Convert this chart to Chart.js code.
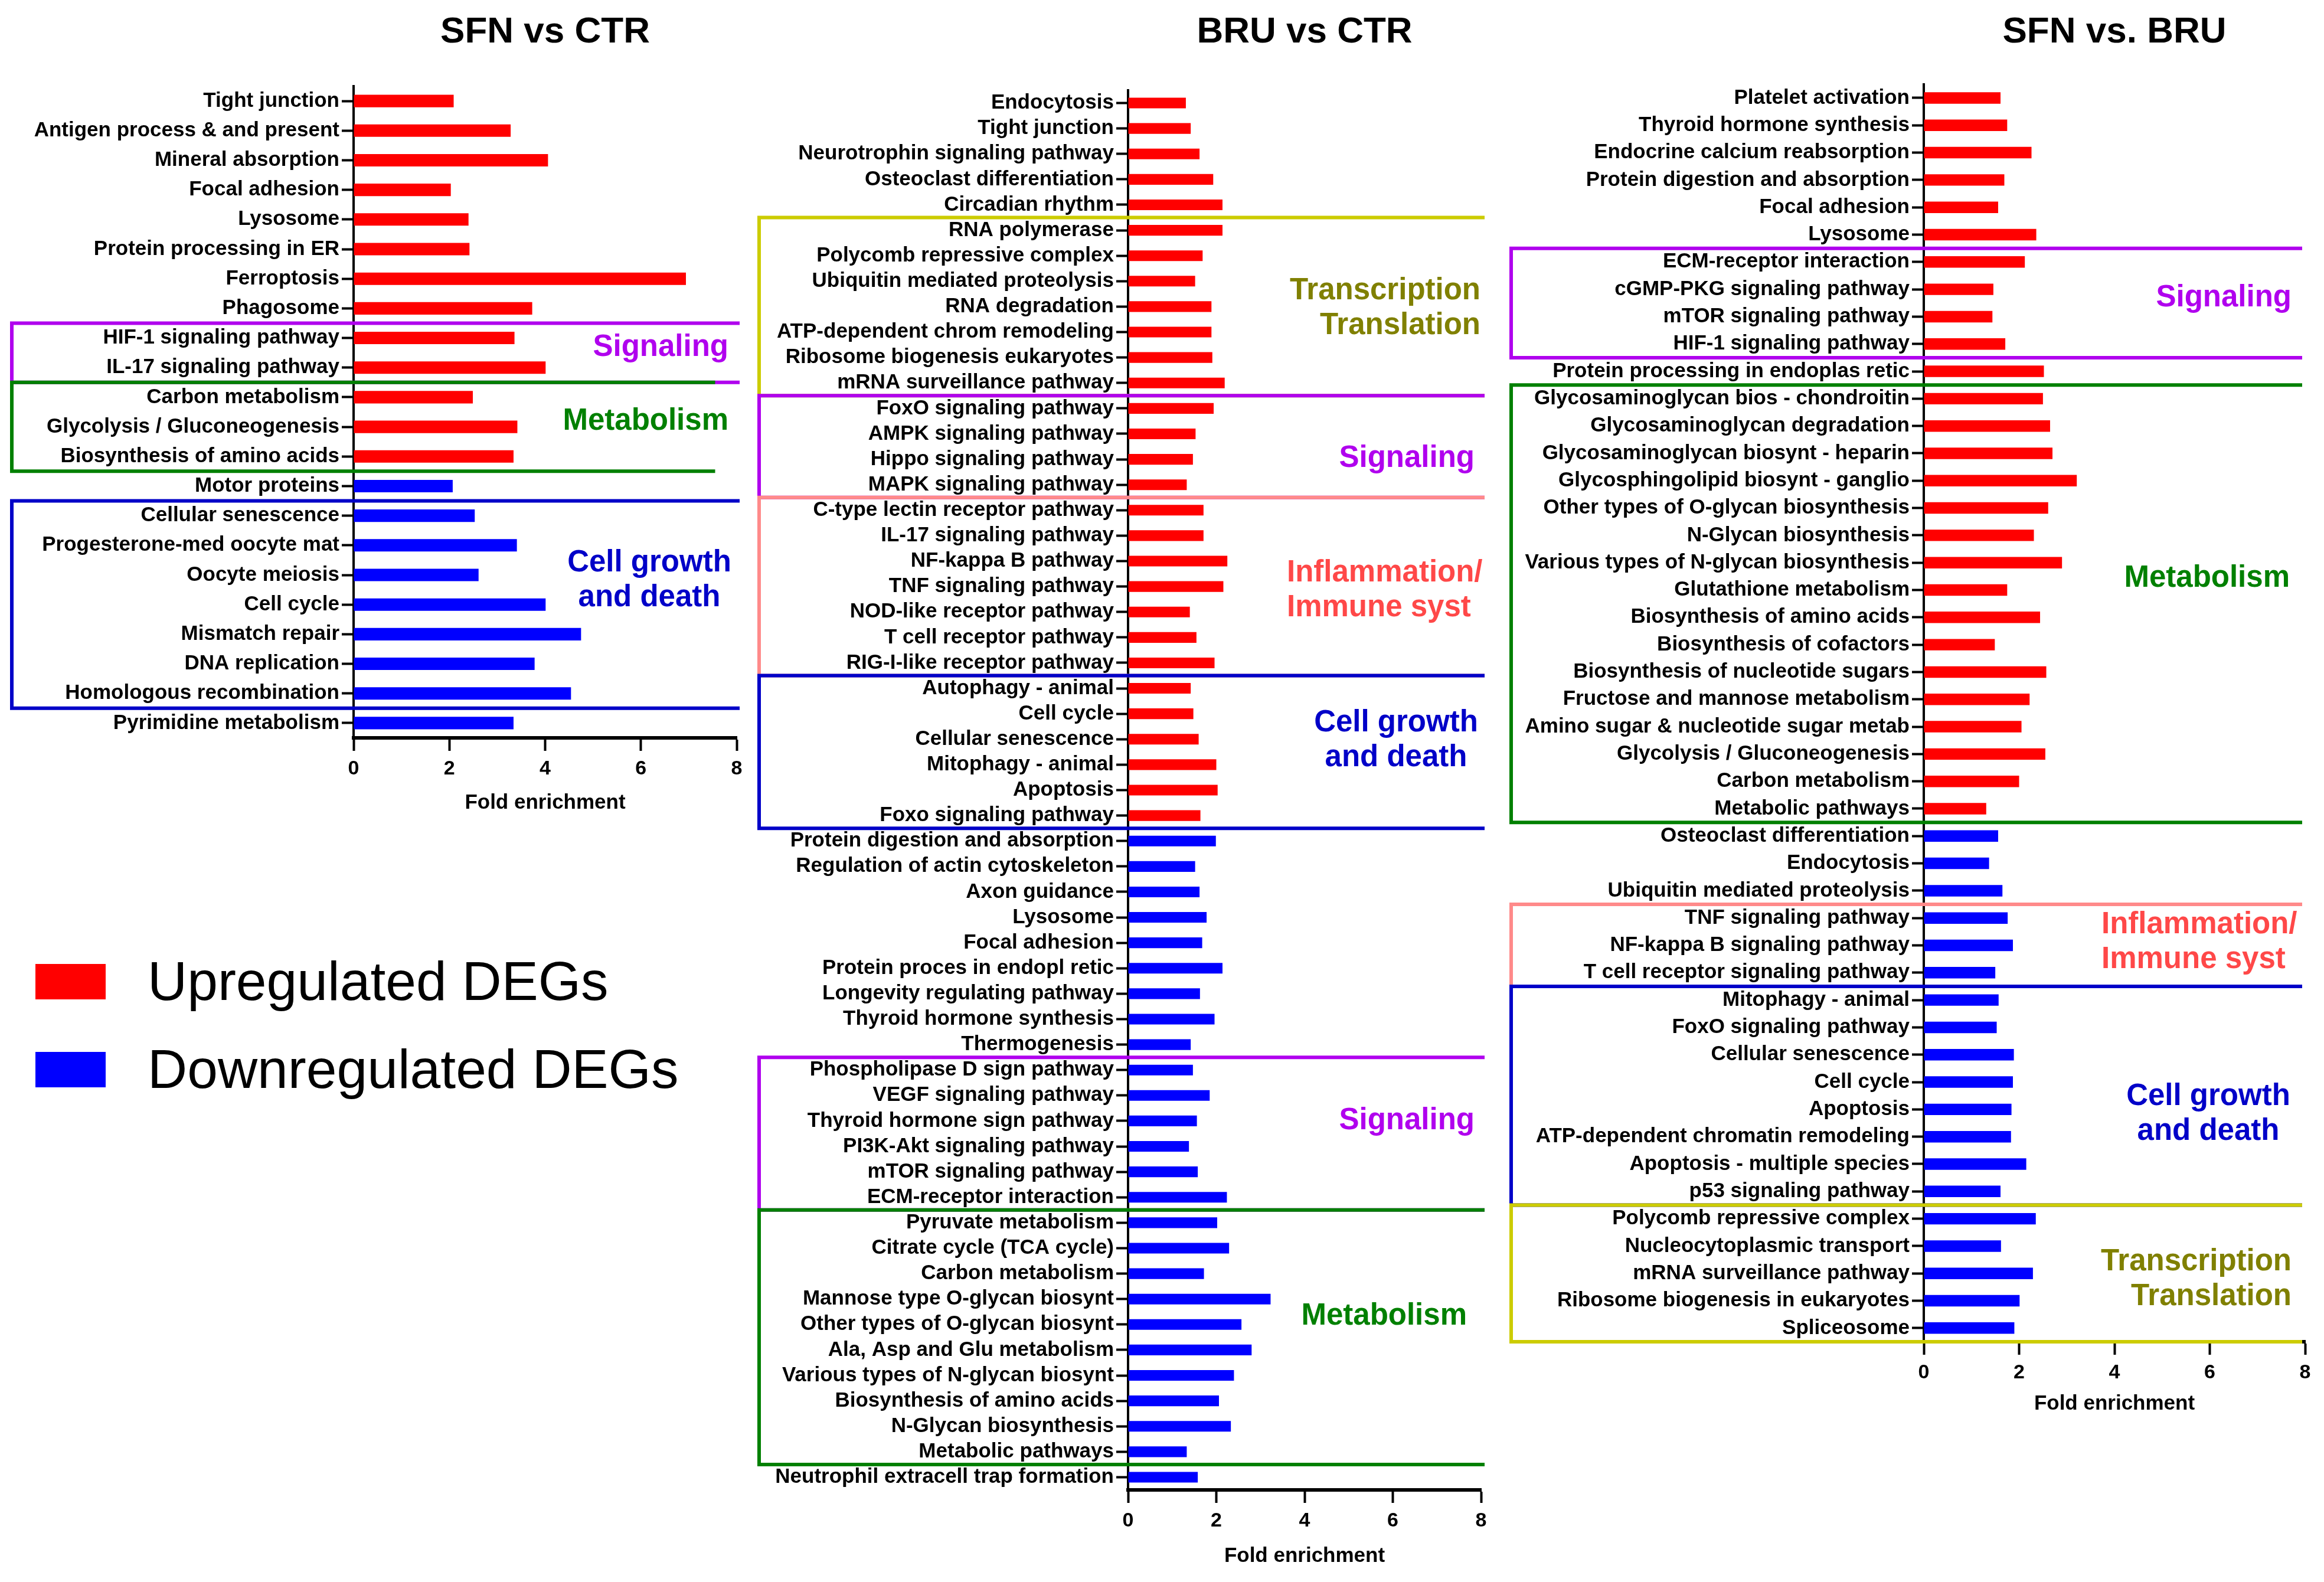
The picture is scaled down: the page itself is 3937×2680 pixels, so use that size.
<!DOCTYPE html>
<html>
<head>
<meta charset="utf-8">
<script src="https://cdn.jsdelivr.net/npm/chart.js@4.4.1/dist/chart.umd.min.js"></script>
<style>
  body { margin: 0; background: #fff; width: 3937px; height: 2680px; position: relative; overflow: hidden;
         font-family: "Liberation Sans", Arial, sans-serif; }
  canvas { position: absolute; top: 0; }
  .key { position: absolute; left: 60px; width: 119px; height: 60px; }
  .keytext { position: absolute; left: 250px; font-size: 93px; line-height: 93px; color: #000; white-space: nowrap; }
</style>
</head>
<body>
<canvas id="sfnCtr" width="1270" height="1381" style="left:0px"></canvas>
<canvas id="bruCtr" width="1260" height="2657" style="left:1270px"></canvas>
<canvas id="sfnBru" width="1407" height="2399" style="left:2530px"></canvas>

<div class="key" style="top:1633px;background:#ff0000"></div>
<div class="keytext" style="top:1616px">Upregulated DEGs</div>
<div class="key" style="top:1782px;background:#0000ff"></div>
<div class="keytext" style="top:1765px">Downregulated DEGs</div>

<script>
// ---- data: SFN vs CTR ----
const sfnCtrUpLabels = ["Tight junction", "Antigen process & and present", "Mineral absorption", "Focal adhesion",
  "Lysosome", "Protein processing in ER", "Ferroptosis", "Phagosome", "HIF-1 signaling pathway",
  "IL-17 signaling pathway", "Carbon metabolism", "Glycolysis / Gluconeogenesis", "Biosynthesis of amino acids"];
const sfnCtrUp = [2.09, 3.28, 4.06, 2.03, 2.40, 2.42, 6.94, 3.73, 3.36, 4.01, 2.49, 3.42, 3.34];
const sfnCtrDownLabels = ["Motor proteins", "Cellular senescence", "Progesterone-med oocyte mat", "Oocyte meiosis",
  "Cell cycle", "Mismatch repair", "DNA replication", "Homologous recombination", "Pyrimidine metabolism"];
const sfnCtrDown = [2.07, 2.53, 3.41, 2.61, 4.01, 4.75, 3.78, 4.54, 3.34];

// ---- data: BRU vs CTR ----
const bruCtrUpLabels = ["Endocytosis", "Tight junction", "Neurotrophin signaling pathway", "Osteoclast differentiation",
  "Circadian rhythm", "RNA polymerase", "Polycomb repressive complex", "Ubiquitin mediated proteolysis",
  "RNA degradation", "ATP-dependent chrom remodeling", "Ribosome biogenesis eukaryotes", "mRNA surveillance pathway",
  "FoxO signaling pathway", "AMPK signaling pathway", "Hippo signaling pathway", "MAPK signaling pathway",
  "C-type lectin receptor pathway", "IL-17 signaling pathway", "NF-kappa B pathway", "TNF signaling pathway",
  "NOD-like receptor pathway", "T cell receptor pathway", "RIG-I-like receptor pathway", "Autophagy - animal",
  "Cell cycle", "Cellular senescence", "Mitophagy - animal", "Apoptosis", "Foxo signaling pathway"];
const bruCtrUp = [1.31, 1.42, 1.62, 1.93, 2.14, 2.14, 1.69, 1.52, 1.89, 1.89, 1.91, 2.19, 1.94, 1.53, 1.47, 1.33,
  1.71, 1.71, 2.25, 2.16, 1.40, 1.55, 1.96, 1.42, 1.48, 1.60, 2.00, 2.03, 1.64];
const bruCtrDownLabels = ["Protein digestion and absorption", "Regulation of actin cytoskeleton", "Axon guidance",
  "Lysosome", "Focal adhesion", "Protein proces in endopl retic", "Longevity regulating pathway",
  "Thyroid hormone synthesis", "Thermogenesis", "Phospholipase D sign pathway", "VEGF signaling pathway",
  "Thyroid hormone sign pathway", "PI3K-Akt signaling pathway", "mTOR signaling pathway", "ECM-receptor interaction",
  "Pyruvate metabolism", "Citrate cycle (TCA cycle)", "Carbon metabolism", "Mannose type O-glycan biosynt",
  "Other types of O-glycan biosynt", "Ala, Asp and Glu metabolism", "Various types of N-glycan biosynt",
  "Biosynthesis of amino acids", "N-Glycan biosynthesis", "Metabolic pathways", "Neutrophil extracell trap formation"];
const bruCtrDown = [1.99, 1.52, 1.62, 1.78, 1.68, 2.14, 1.63, 1.96, 1.42, 1.47, 1.85, 1.56, 1.38, 1.58, 2.24,
  2.02, 2.29, 1.72, 3.23, 2.57, 2.80, 2.40, 2.06, 2.33, 1.33, 1.58];

// ---- data: SFN vs. BRU ----
const sfnBruUpLabels = ["Platelet activation", "Thyroid hormone synthesis", "Endocrine calcium reabsorption",
  "Protein digestion and absorption", "Focal adhesion", "Lysosome", "ECM-receptor interaction",
  "cGMP-PKG signaling pathway", "mTOR signaling pathway", "HIF-1 signaling pathway",
  "Protein processing in endoplas retic", "Glycosaminoglycan bios - chondroitin", "Glycosaminoglycan degradation",
  "Glycosaminoglycan biosynt - heparin", "Glycosphingolipid biosynt - ganglio", "Other types of O-glycan biosynthesis",
  "N-Glycan biosynthesis", "Various types of N-glycan biosynthesis", "Glutathione metabolism",
  "Biosynthesis of amino acids", "Biosynthesis of cofactors", "Biosynthesis of nucleotide sugars",
  "Fructose and mannose metabolism", "Amino sugar & nucleotide sugar metab", "Glycolysis / Gluconeogenesis",
  "Carbon metabolism", "Metabolic pathways"];
const sfnBruUp = [1.61, 1.75, 2.26, 1.69, 1.56, 2.36, 2.12, 1.46, 1.44, 1.71, 2.52, 2.50, 2.65, 2.70, 3.21, 2.61,
  2.31, 2.90, 1.75, 2.44, 1.49, 2.57, 2.22, 2.05, 2.55, 2.00, 1.31];
const sfnBruDownLabels = ["Osteoclast differentiation", "Endocytosis", "Ubiquitin mediated proteolysis",
  "TNF signaling pathway", "NF-kappa B signaling pathway", "T cell receptor signaling pathway", "Mitophagy - animal",
  "FoxO signaling pathway", "Cellular senescence", "Cell cycle", "Apoptosis", "ATP-dependent chromatin remodeling",
  "Apoptosis - multiple species", "p53 signaling pathway", "Polycomb repressive complex", "Nucleocytoplasmic transport",
  "mRNA surveillance pathway", "Ribosome biogenesis in eukaryotes", "Spliceosome"];
const sfnBruDown = [1.56, 1.37, 1.65, 1.76, 1.87, 1.50, 1.57, 1.53, 1.89, 1.87, 1.84, 1.83, 2.15, 1.61, 2.35, 1.62,
  2.29, 2.01, 1.90];

const xTicks = [0, 2, 4, 6, 8];

// colours
const UP = "#ff0000", DOWN = "#0000ff";
const PURPLE = "#b000ee", GREEN = "#008000", BLUE = "#0000c8", PINK = "#ff8a8a", PINK_TXT = "#ff4848",
      YELLOW = "#cccc00", OLIVE = "#808000";
const FONT = '"Liberation Sans", Arial, sans-serif';

Chart.defaults.font.family = FONT;
Chart.defaults.color = "#000";

// boxes around groups of pathways, open on the right side
const groupBoxes = {
  id: "groupBoxes",
  afterDatasetsDraw(chart, args, opts) {
    const { ctx, chartArea, scales: { x, y } } = chart;
    const band = y.getPixelForValue(1) - y.getPixelForValue(0);
    ctx.save();
    opts.groups.forEach(g => {
      const top = y.getPixelForValue(g.from) - band / 2;
      const bottom = y.getPixelForValue(g.to) + band / 2;
      const left = chartArea.left - opts.inset;
      const right = g.right != null ? x.getPixelForValue(g.right) : chartArea.right + opts.boxRight;
      ctx.strokeStyle = g.color;
      ctx.lineWidth = 6;
      ctx.beginPath();
      ctx.moveTo(right, top);
      ctx.lineTo(left, top);
      ctx.lineTo(left, bottom);
      ctx.lineTo(right, bottom);
      ctx.stroke();

      ctx.fillStyle = g.textColor || g.color;
      ctx.font = "bold 51px " + FONT;
      ctx.textAlign = g.align;
      ctx.textBaseline = "middle";
      const mid = (top + bottom) / 2 + g.dy;
      const n = g.text.length;
      g.text.forEach((t, i) => ctx.fillText(t, chartArea.right + g.dx, mid + (i - (n - 1) / 2) * 59));
    });
    ctx.restore();
  }
};

function makePanel(id, title, upLabels, up, downLabels, down, p) {
  const labels = upLabels.concat(downLabels);
  const upData = up.concat(downLabels.map(() => null));
  const downData = upLabels.map(() => null).concat(down);

  return new Chart(document.getElementById(id), {
    type: "bar",
    data: {
      labels: labels,
      datasets: [
        { label: "Upregulated DEGs", data: upData, backgroundColor: UP, grouped: false,
          barPercentage: 0.42, categoryPercentage: 1 },
        { label: "Downregulated DEGs", data: downData, backgroundColor: DOWN, grouped: false,
          barPercentage: 0.42, categoryPercentage: 1 }
      ]
    },
    options: {
      indexAxis: "y",
      responsive: false,
      animation: false,
      devicePixelRatio: 1,
      layout: { padding: { left: 0, right: p.padRight, top: 0, bottom: 0 } },
      plugins: {
        legend: { display: false },
        tooltip: { enabled: false },
        title: {
          display: true, text: title, fullSize: false, color: "#000",
          font: { size: 62, weight: "bold" }, padding: { top: 18, bottom: p.titleGap }
        },
        groupBoxes: { inset: p.inset, boxRight: p.boxRight, groups: p.groups }
      },
      scales: {
        x: {
          type: "linear", position: "bottom", min: xTicks[0], max: xTicks[xTicks.length - 1],
          afterBuildTicks: s => { s.ticks = xTicks.map(v => ({ value: v })); },
          ticks: { color: "#000", font: { size: 34, weight: "bold" }, padding: 10, maxRotation: 0 },
          grid: { drawOnChartArea: false, tickLength: 22, tickWidth: 4, tickColor: "#000" },
          border: { color: "#000", width: 6 },
          title: { display: true, text: "Fold enrichment", color: "#000", font: { size: 35, weight: "bold" }, padding: 0 },
          afterFit: s => { s.height = p.xHeight; }
        },
        y: {
          ticks: { autoSkip: false, color: "#000", font: { size: 35, weight: "bold" }, padding: 4 },
          grid: { drawOnChartArea: false, offset: false, tickLength: 20, tickWidth: 4, tickColor: "#000" },
          border: { color: "#000", width: 4 },
          afterFit: s => { s.width = p.yWidth; }
        }
      }
    },
    plugins: [groupBoxes]
  });
}

makePanel("sfnCtr", "SFN vs CTR", sfnCtrUpLabels, sfnCtrUp, sfnCtrDownLabels, sfnCtrDown, {
  yWidth: 599, padRight: 22, xHeight: 131, titleGap: 53.6, inset: 579, boxRight: 5,
  groups: [
    { from: 8, to: 9, color: PURPLE, text: ["Signaling"], align: "right", dx: -14, dy: -9 },
    { from: 10, to: 12, color: GREEN, right: 7.55, text: ["Metabolism"], align: "right", dx: -14, dy: -9 },
    { from: 14, to: 20, color: BLUE, text: ["Cell growth", "and death"], align: "center", dx: -148, dy: -41 }
  ]
});

makePanel("bruCtr", "BRU vs CTR", bruCtrUpLabels, bruCtrUp, bruCtrDownLabels, bruCtrDown, {
  yWidth: 641, padRight: 21, xHeight: 133, titleGap: 60.6, inset: 625, boxRight: 6,
  groups: [
    { from: 5, to: 11, color: YELLOW, textColor: OLIVE, text: ["Transcription", "Translation"], align: "right", dx: -1, dy: 3 },
    { from: 12, to: 15, color: PURPLE, text: ["Signaling"], align: "right", dx: -11, dy: 20 },
    { from: 16, to: 22, color: PINK, textColor: PINK_TXT, text: ["Inflammation/", "Immune syst"], align: "left", dx: -329, dy: 7 },
    { from: 23, to: 28, color: BLUE, text: ["Cell growth", "and death"], align: "center", dx: -144, dy: -19 },
    { from: 38, to: 43, color: PURPLE, text: ["Signaling"], align: "right", dx: -11, dy: -22 },
    { from: 44, to: 53, color: GREEN, text: ["Metabolism"], align: "right", dx: -24, dy: -35 }
  ]
});

makePanel("sfnBru", "SFN vs. BRU", sfnBruUpLabels, sfnBruUp, sfnBruDownLabels, sfnBruDown, {
  yWidth: 729, padRight: 32, xHeight: 126, titleGap: 50.4, inset: 699, boxRight: -5,
  groups: [
    { from: 6, to: 9, color: PURPLE, text: ["Signaling"], align: "right", dx: -23, dy: -8 },
    { from: 11, to: 26, color: GREEN, text: ["Metabolism"], align: "right", dx: -26, dy: -43 },
    { from: 30, to: 32, color: PINK, textColor: PINK_TXT, text: ["Inflammation/", "Immune syst"], align: "left", dx: -345, dy: -5 },
    { from: 33, to: 40, color: BLUE, text: ["Cell growth", "and death"], align: "center", dx: -164, dy: 31 },
    { from: 41, to: 45, color: YELLOW, textColor: OLIVE, text: ["Transcription", "Translation"], align: "right", dx: -23, dy: 10 }
  ]
});
</script>
</body>
</html>
